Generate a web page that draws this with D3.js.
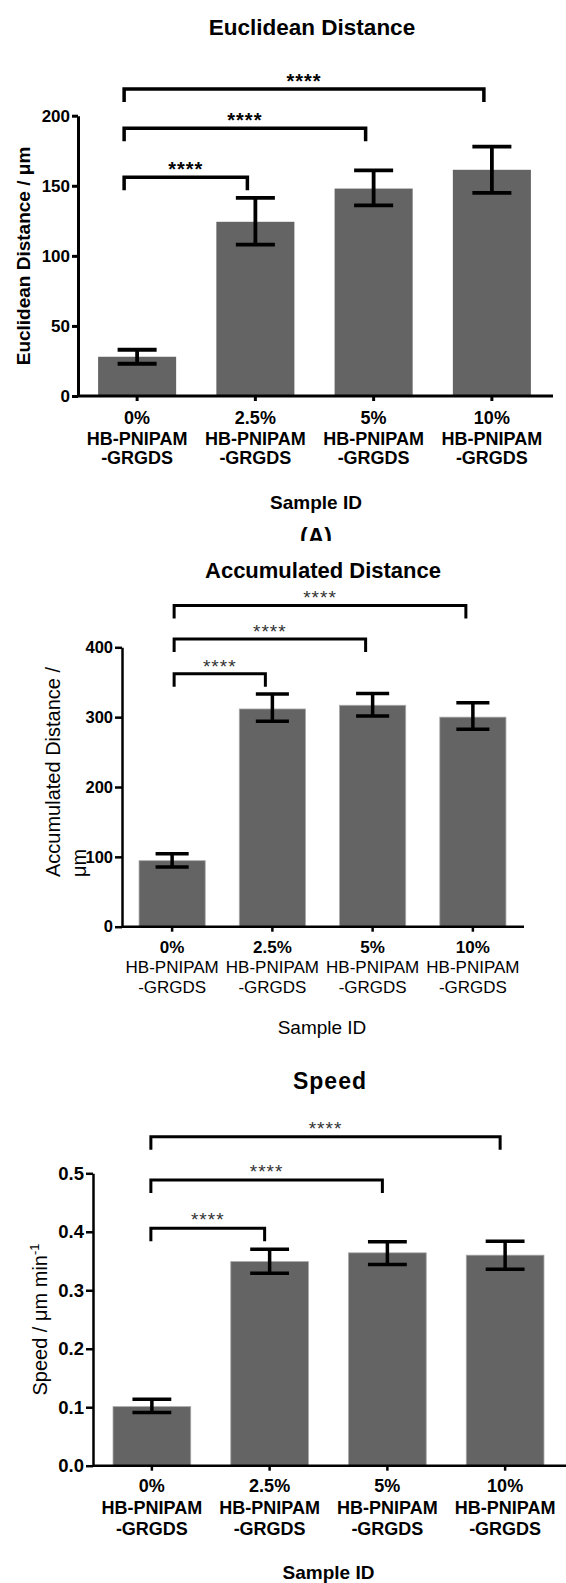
<!DOCTYPE html>
<html>
<head>
<meta charset="utf-8">
<script src="https://cdn.jsdelivr.net/npm/d3@7"></script>
<style>
  body { margin: 0; background: #fff; }
  svg { display: block; }
  text { font-family: "Liberation Sans", Arial, sans-serif; }
</style>
</head>
<body>
<svg id="fig" width="566" height="1583"></svg>
<script>
// Sample groups (x axis, three lines per label)
const groups = ["0%", "2.5%", "5%", "10%"];
const groupLine2 = "HB-PNIPAM";
const groupLine3 = "-GRGDS";
const sigLabel = "****";

// Euclidean distance (um), mean and error bar ends
const euclidMean = [28, 124.3, 148, 161.4];
const euclidLow  = [23, 108, 136, 145];
const euclidHigh = [33, 141.4, 161, 178];
const euclidTicks = [0, 50, 100, 150, 200];
const euclidSigTo = [1, 2, 3];
const euclidSigY  = [156, 191, 219];

// Accumulated distance (um)
const accumMean = [94.5, 311.7, 317, 300];
const accumLow  = [85.5, 294, 301.6, 282.6];
const accumHigh = [104.5, 333, 334, 320.5];
const accumTicks = [0, 100, 200, 300, 400];
const accumSigTo = [1, 2, 3];
const accumSigY  = [362, 412, 460];

// Speed (um / min)
const speedMean = [0.101, 0.349, 0.364, 0.360];
const speedLow  = [0.091, 0.329, 0.344, 0.336];
const speedHigh = [0.1135, 0.370, 0.383, 0.384];
const speedTicks = [0, 0.1, 0.2, 0.3, 0.4, 0.5];
const speedSigTo = [1, 2, 3];
const speedSigY  = [0.406, 0.4885, 0.5626];

const svg = d3.select('#fig');
const barColor = '#646464';

// Draw one bar panel
function drawPanel(cfg){
    const g = svg.append('g');

    const x = d3.scaleBand().domain(groups).range([cfg.left, cfg.right]).padding(0.34).paddingOuter(0.17);
    const y = d3.scaleLinear().domain([0, cfg.yMax]).range([cfg.bottom, cfg.top]);
    const rows = groups.map((k, i) => ({k: k, mean: cfg.mean[i], low: cfg.low[i], high: cfg.high[i]}));

    // Bars
    g.selectAll('rect.bar').data(rows).join('rect')
        .attr('class', 'bar')
        .attr('x', d => x(d.k))
        .attr('width', x.bandwidth())
        .attr('y', d => y(d.mean))
        .attr('height', d => y(0) - y(d.mean))
        .attr('fill', barColor)
        .attr('stroke', cfg.barStroke || 'none')
        .attr('stroke-width', 0.8);

    // Error bars
    const capW = x.bandwidth() * 0.5;
    const err = g.selectAll('g.err').data(rows).join('g').attr('class', 'err')
        .attr('stroke', '#000').attr('stroke-width', cfg.errW).attr('fill', 'none');
    err.append('line')
        .attr('x1', d => x(d.k) + x.bandwidth()/2).attr('x2', d => x(d.k) + x.bandwidth()/2)
        .attr('y1', d => y(d.low)).attr('y2', d => y(d.high));
    err.append('line')
        .attr('x1', d => x(d.k) + x.bandwidth()/2 - capW/2).attr('x2', d => x(d.k) + x.bandwidth()/2 + capW/2)
        .attr('y1', d => y(d.high)).attr('y2', d => y(d.high));
    err.append('line')
        .attr('x1', d => x(d.k) + x.bandwidth()/2 - capW/2).attr('x2', d => x(d.k) + x.bandwidth()/2 + capW/2)
        .attr('y1', d => y(d.low)).attr('y2', d => y(d.low));

    // Axes
    const yAxis = g.append('g')
        .attr('transform', `translate(${cfg.left},0)`)
        .call(d3.axisLeft(y).tickValues(cfg.ticks).tickSize(cfg.tickLen).tickPadding(2)
            .tickSizeOuter(0).tickFormat(cfg.fmt));
    yAxis.selectAll('path, line').attr('stroke', '#000').attr('stroke-width', cfg.axisW);
    yAxis.selectAll('text')
        .attr('fill', '#000')
        .style('font-size', cfg.tickFont + 'px')
        .style('font-weight', 'bold');

    const xAxis = g.append('g')
        .attr('transform', `translate(0,${cfg.bottom})`)
        .call(d3.axisBottom(x).tickSize(5).tickSizeOuter(0).tickFormat(''));
    xAxis.select('path').attr('d', `M${cfg.left},0H${cfg.axisEnd}`);
    xAxis.selectAll('path, line').attr('stroke', '#000').attr('stroke-width', cfg.axisW);

    // Group labels
    const lab = g.selectAll('text.grp').data(groups).join('text')
        .attr('class', 'grp')
        .attr('text-anchor', 'middle')
        .style('font-size', cfg.xlabFont + 'px');
    [d => d, () => groupLine2, () => groupLine3].forEach((f, j) => {
        lab.append('tspan')
            .attr('x', d => x(d) + x.bandwidth()/2)
            .attr('y', cfg.xlabY[j])
            .style('font-weight', cfg.xlabWeight[j])
            .text(f);
    });

    // Significance brackets
    const sig = cfg.sigTo.map((t, i) => ({from: 0, to: t, v: cfg.sigY[i]}));
    const cx = k => x(groups[k]) + x.bandwidth()/2;
    g.selectAll('path.br').data(sig).join('path')
        .attr('class', 'br')
        .attr('fill', 'none').attr('stroke', '#000').attr('stroke-width', cfg.brW)
        .attr('stroke-linejoin', 'miter')
        .attr('d', d => {
            const x1 = cx(d.from) + cfg.dxL, x2 = cx(d.to) + cfg.dxR, yy = y(d.v);
            return `M${x1},${yy + cfg.leg}V${yy}H${x2}V${yy + cfg.leg}`;
        });
    g.selectAll('text.star').data(sig).join('text')
        .attr('class', 'star')
        .attr('x', d => (cx(d.from) + cfg.dxL + cx(d.to) + cfg.dxR)/2)
        .attr('y', d => y(d.v) + cfg.starDy)
        .attr('text-anchor', 'middle')
        .attr('fill', cfg.starFill)
        .style('font-size', cfg.starFont + 'px')
        .style('font-weight', cfg.starWeight)
        .style('letter-spacing', '1px')
        .text(sigLabel);

    // Title
    g.append('text')
        .attr('x', cfg.title.x).attr('y', cfg.title.y)
        .attr('text-anchor', 'middle')
        .style('font-size', cfg.title.size + 'px')
        .style('font-weight', 'bold')
        .style('letter-spacing', cfg.title.ls || '0px')
        .text(cfg.title.text);

    // Y label
    const yl = g.append('text')
        .attr('transform', `translate(0,${cfg.ylab.y}) rotate(-90)`)
        .attr('text-anchor', cfg.ylab.anchor)
        .style('font-size', cfg.ylab.size + 'px')
        .style('font-weight', cfg.ylab.weight);
    cfg.ylab.lines.forEach((ln, i) => {
        yl.append('tspan').attr('x', 0).attr('y', cfg.ylab.x[i]).text(ln);
    });
    if(cfg.ylab.sup){
        yl.append('tspan').attr('dy', -8).style('font-size', '13px').text(cfg.ylab.sup);
    }

    // X title
    g.append('text')
        .attr('x', cfg.sample.x).attr('y', cfg.sample.y)
        .attr('text-anchor', 'middle')
        .style('font-size', cfg.sample.size + 'px')
        .style('font-weight', cfg.sample.weight)
        .text('Sample ID');
}

drawPanel({
    mean: euclidMean, low: euclidLow, high: euclidHigh, ticks: euclidTicks,
    sigTo: euclidSigTo, sigY: euclidSigY, yMax: 200, fmt: d3.format('d'),
    left: 78, right: 551, axisEnd: 553, top: 115.7, bottom: 396,
    axisW: 3, errW: 3.8, brW: 3.5, tickLen: 6, tickFont: 17,
    xlabFont: 18, xlabWeight: ['bold', 'bold', 'bold'], xlabY: [423.5, 444.5, 463.5],
    dxL: -13, dxR: -8, leg: 13, starDy: -1, starFont: 20, starWeight: 'bold', starFill: '#000',
    title: {text: 'Euclidean Distance', x: 312, y: 35, size: 22.5},
    ylab: {lines: ['Euclidean Distance / \u03bcm'], x: [30], y: 256, anchor: 'middle', size: 19, weight: 'bold'},
    sample: {x: 316, y: 509, size: 19, weight: 'bold'}
});

drawPanel({
    mean: accumMean, low: accumLow, high: accumHigh, ticks: accumTicks,
    sigTo: accumSigTo, sigY: accumSigY, yMax: 400, fmt: d3.format('d'),
    left: 122, right: 523, axisEnd: 524, top: 647.3, bottom: 926.7,
    axisW: 2.5, errW: 3.5, brW: 3, tickLen: 7, tickFont: 16.5, barStroke: '#a8a8a8',
    xlabFont: 17, xlabWeight: ['bold', 'normal', 'normal'], xlabY: [952.8, 973, 992.8],
    dxL: 2, dxR: -7, leg: 13, starDy: -1, starFont: 19, starWeight: 'normal', starFill: '#333',
    title: {text: 'Accumulated Distance', x: 323, y: 578, size: 22},
    ylab: {lines: ['Accumulated Distance /', '\u03bcm'], x: [59.5, 86], y: 877, anchor: 'start', size: 20, weight: 'normal'},
    sample: {x: 322, y: 1033.5, size: 19, weight: 'normal'}
});

drawPanel({
    mean: speedMean, low: speedLow, high: speedHigh, ticks: speedTicks,
    sigTo: speedSigTo, sigY: speedSigY, yMax: 0.5, fmt: d3.format('.1f'),
    left: 93, right: 564, axisEnd: 566, top: 1173.3, bottom: 1465.7,
    axisW: 2.5, errW: 3.5, brW: 3, tickLen: 7, tickFont: 18.5, barStroke: '#a8a8a8',
    xlabFont: 18, xlabWeight: ['bold', 'bold', 'bold'], xlabY: [1492, 1514, 1534.5],
    dxL: -1, dxR: -5, leg: 13, starDy: -2, starFont: 19, starWeight: 'normal', starFill: '#333',
    title: {text: 'Speed', x: 330, y: 1089, size: 23, ls: '1px'},
    ylab: {lines: ['Speed / \u03bcm min'], x: [46.5], y: 1319.5, anchor: 'middle', size: 20, weight: 'normal', sup: '-1'},
    sample: {x: 328.5, y: 1578.5, size: 19, weight: 'bold'}
});

// Panel letter, cut off by the panel below
svg.append('clipPath').attr('id', 'clipA')
    .append('rect').attr('x', 0).attr('y', 0).attr('width', 566).attr('height', 541);
svg.append('text')
    .attr('x', 316).attr('y', 545)
    .attr('text-anchor', 'middle')
    .attr('clip-path', 'url(#clipA)')
    .style('font-size', '23px')
    .style('font-weight', 'bold')
    .text('(A)');
</script>
</body>
</html>
